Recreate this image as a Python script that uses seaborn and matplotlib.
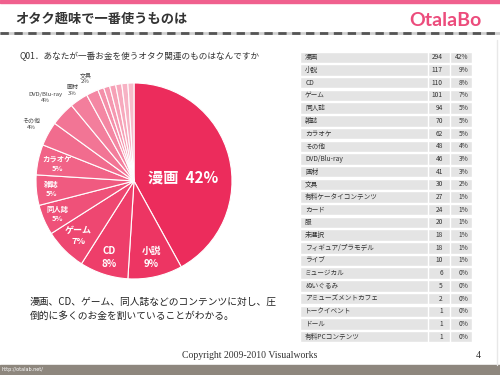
import numpy as np
import seaborn as sns
import matplotlib.pyplot as plt

# table data
names = ['漫画', '小説', 'CD', 'ゲーム', '同人誌', '雑誌', 'カラオケ', 'その他',
         'DVD/Blu-ray', '画材', '文具', '有料ケータイコンテンツ', 'カード', '服',
         '未選択', 'フィギュア/プラモデル', 'ライブ', 'ミュージカル', 'ぬいぐるみ',
         'アミューズメントカフェ', 'トークイベント', 'ドール', '有料PCコンテンツ']
counts = [294, 117, 110, 101, 94, 70, 62, 48, 46, 41, 30, 27, 24, 20, 18, 18,
          10, 6, 5, 2, 1, 1, 1]
pcts = [42, 9, 8, 7, 5, 5, 5, 4, 3, 3, 2, 1, 1, 1, 1, 1, 1, 0, 0, 0, 0, 0, 0]

# pie data (as labelled on the pie)
pie_names = ['漫画', '小説', 'CD', 'ゲーム', '同人誌', '雑誌', 'カラオケ', 'その他',
             'DVD/Blu-ray', '画材', '文具', '有料ケータイコンテンツ', 'カード', '服',
             '未選択', 'フィギュア/プラモデル', 'ライブ']
pie_pct = [42, 9, 8, 7, 5, 5, 5, 4, 4, 3, 2, 1, 1, 1, 1, 1, 1]

title = 'オタク趣味で一番使うものは'
question = 'Q01．あなたが一番お金を使うオタク関連のものはなんですか'
caption = '漫画、CD、ゲーム、同人誌などのコンテンツに対し、圧\n倒的に多くのお金を割いていることがわかる。'

sns.set_theme(style='white')
plt.rcParams['font.family'] = ['Noto Sans CJK JP', 'DejaVu Sans']

fig = plt.figure(figsize=(5, 3.75), dpi=100)
fig.patch.set_facecolor('white')

# page decoration in pixel coordinates
bg = fig.add_axes([0, 0, 1, 1])
bg.set_xlim(0, 500)
bg.set_ylim(375, 0)
bg.axis('off')
bg.axhspan(0, 3, color='#F0608E')
bg.text(15, 19, title, fontsize=9.5, fontweight='bold', color='#333333', va='center')
bg.plot([0, 500], [33, 33], color='#CFCFCF', lw=2)
bg.plot([0, 500], [33, 33], color='#555555', lw=2, dashes=(3, 2))
bg.text(445, 20, 'OtalaBo', fontsize=14, fontweight='bold', color='#EC4C7C',
        ha='center', va='center', family=['Lato', 'DejaVu Sans'])
bg.text(20, 57, question, fontsize=6.2, color='#333333', va='center')
bg.text(30, 309, caption, fontsize=7, color='#222222', va='center', linespacing=1.5)
bg.text(250, 355, 'Copyright 2009-2010 Visualworks', fontsize=7, color='#333333',
        ha='center', va='center', family=['Liberation Serif'])
bg.text(478, 355, '4', fontsize=7, color='#333333', ha='center', va='center',
        family=['Liberation Serif'])
bg.axhspan(365, 375, color='#8E877E')
bg.text(2, 370, 'http://otalab.net/', fontsize=3.5, color='white', va='center',
        family=['DejaVu Sans'])
bg.plot([497, 497], [40, 365], color='#E8E8E8', lw=1)

# pie
pax = fig.add_axes([0.072, 0.256, 0.392, 0.5227])
colors = sns.blend_palette(['#EC2C5C', '#F27595', '#F8BACA'], len(pie_pct))
wedges, _ = pax.pie(pie_pct, colors=colors, startangle=90, counterclock=False,
                    wedgeprops=dict(edgecolor='white', linewidth=0.8))
pax.set_xlim(-1, 1)
pax.set_ylim(-1, 1)

inside = {'漫画': (0.5, 11), '小説': (0.8, 7), 'CD': (0.82, 7), 'ゲーム': (0.8, 6.5),
          '同人誌': (0.85, 5.3), '雑誌': (0.85, 5.3), 'カラオケ': (0.8, 5.3)}
outside = {'その他': 1.2, 'DVD/Blu-ray': 1.24, '画材': 1.12, '文具': 1.16}
for w, name, p in zip(wedges, pie_names, pie_pct):
    mid = np.deg2rad((w.theta1 + w.theta2) / 2)
    if name in inside:
        r, fs = inside[name]
        if name == '漫画':
            label = f'{name}  {p}%'
            mid = np.deg2rad(4)
        else:
            label = f'{name}\n{p}%'
        pax.text(r * np.cos(mid), r * np.sin(mid), label, color='white',
                 fontsize=fs, fontweight='bold', ha='center', va='center',
                 linespacing=1.3)
    elif name in outside:
        r = outside[name]
        pax.text(r * np.cos(mid), r * np.sin(mid), f'{name}\n{p}%', color='#444444',
                 fontsize=4.3, ha='center', va='center', linespacing=1.3)

# table
tax = fig.add_axes([0.6, 0.0853, 0.344, 0.7787])
rows = np.arange(len(names))
tax.barh(rows, [1] * len(rows), height=0.9, left=0, color='#E4E4E4')
tax.set_xlim(0, 1)
tax.set_ylim(len(rows) - 0.5, -0.5)
tax.axis('off')
for xsep in (0.744, 0.872):
    tax.axvline(xsep, color='white', lw=1)
for i, (n, c, p) in enumerate(zip(names, counts, pcts)):
    tax.text(0.03, i, n, fontsize=4.8, color='#333333', va='center')
    tax.text(0.83, i, str(c), fontsize=4.8, color='#333333', va='center', ha='right')
    tax.text(0.98, i, f'{p}%', fontsize=4.8, color='#333333', va='center', ha='right')

fig.savefig('out.png', dpi=100)
